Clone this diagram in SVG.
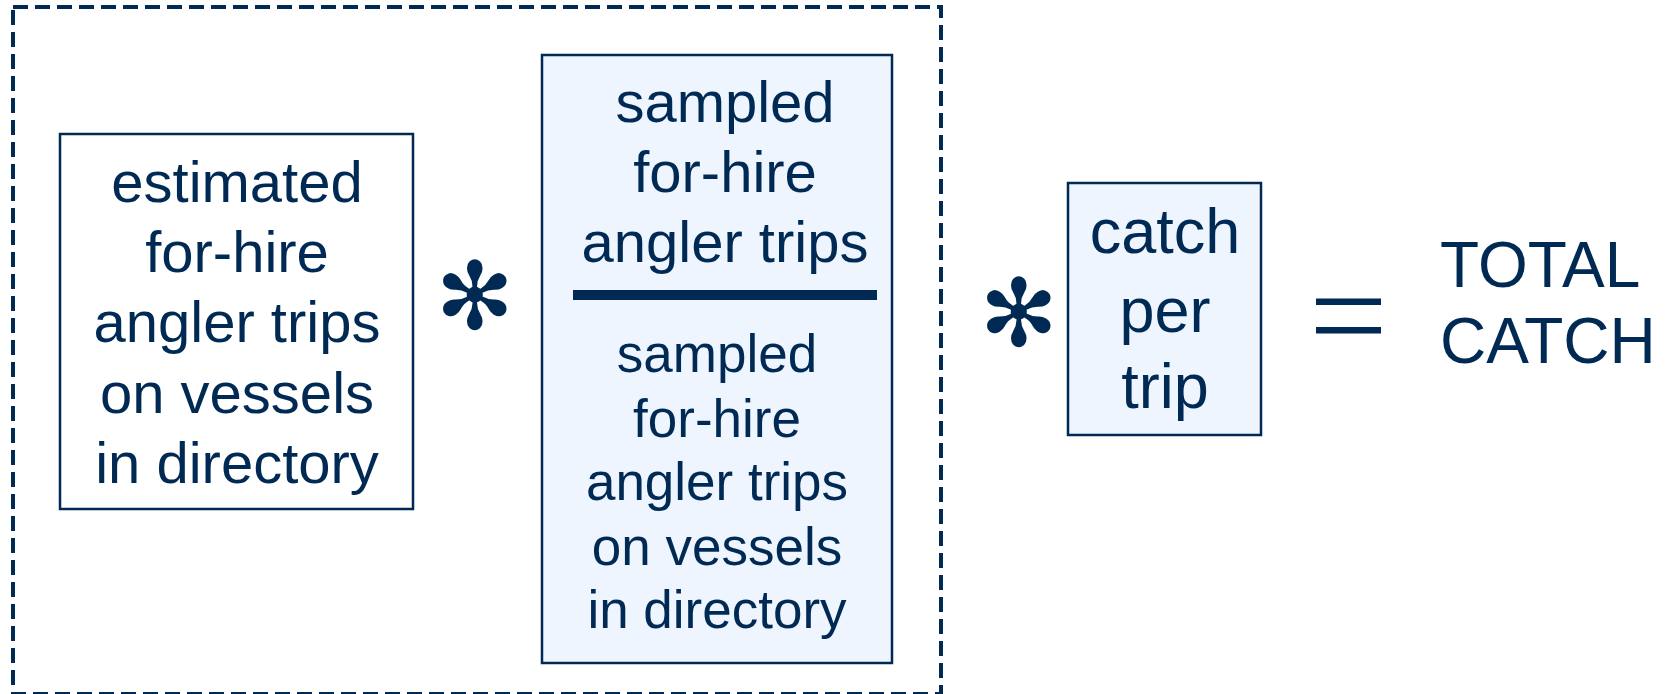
<svg xmlns="http://www.w3.org/2000/svg" width="1670" height="694" viewBox="0 0 1670 694">
<style>
.t{font-family:"Liberation Sans",Arial,sans-serif;fill:#002A54;text-anchor:middle}
.box{stroke:#002A54;stroke-width:2.5}
.ast{font-family:"DejaVu Sans",sans-serif;fill:#002A54;text-anchor:middle;font-size:94px}
</style>
<rect width="1670" height="694" fill="#ffffff"/>
<g id="group-frame">
<rect x="13" y="7" width="928" height="687" fill="none" stroke="#002A54" stroke-width="4" stroke-dasharray="15 7"/>
</g>
<g id="node-estimated">
<rect class="box" x="60" y="134" width="353" height="375" fill="#ffffff"/>
<text class="t" font-size="58" x="237"><tspan x="237" y="202">estimated</tspan><tspan x="237" y="272">for-hire</tspan><tspan x="237" y="342">angler trips</tspan><tspan x="237" y="412.5">on vessels</tspan><tspan x="237" y="483">in directory</tspan></text>
</g>
<g id="op-times-1">
<text class="ast" x="475" y="329">✻</text>
</g>
<g id="node-ratio">
<rect class="box" x="542" y="55" width="350" height="608" fill="#EEF5FE"/>
<text class="t" font-size="58"><tspan x="725" y="122">sampled</tspan><tspan x="725" y="192">for-hire</tspan><tspan x="725" y="262">angler trips</tspan></text>
<rect x="573" y="290" width="304" height="10" fill="#002A54"/>
<text class="t" font-size="53"><tspan x="717" y="372">sampled</tspan><tspan x="717" y="437">for-hire</tspan><tspan x="717" y="500">angler trips</tspan><tspan x="717" y="565">on vessels</tspan><tspan x="717" y="628">in directory</tspan></text>
</g>
<g id="op-times-2">
<text class="ast" x="1019" y="346">✻</text>
</g>
<g id="node-cpt">
<rect class="box" x="1068" y="183" width="193" height="252" fill="#EEF5FE"/>
<text class="t" font-size="63"><tspan x="1165" y="253">catch</tspan><tspan x="1165" y="332">per</tspan><tspan x="1165" y="408">trip</tspan></text>
</g>
<g id="op-equals">
<rect x="1316" y="298.5" width="65" height="6.5" fill="#002A54"/>
<rect x="1316" y="327" width="65" height="6.5" fill="#002A54"/>
</g>
<g id="node-total">
<text class="t" font-size="64" style="text-anchor:start"><tspan x="1440" y="287">TOTAL</tspan><tspan x="1440" y="363">CATCH</tspan></text>
</g>
<g id="connectors"></g>
</svg>
